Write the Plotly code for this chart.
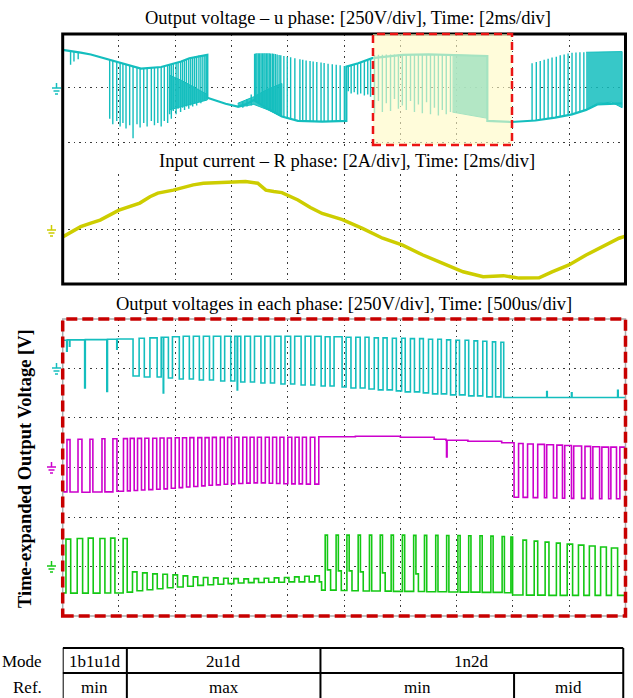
import plotly.graph_objects as go

W, H = 633, 698


def px(x):
    return x / W


def py(y):
    return 1 - y / H


# ------------------------------------------------------------------ data
# Top scope: u-phase output voltage (time in ms, volts)
U_BASE_T = [0.00, 0.30, 0.64, 1.00, 1.64, 2.07, 2.78, 3.50, 4.21, 4.50, 5.14, 5.14, 5.50, 5.79,
            6.22, 6.50, 6.79, 7.22, 7.79, 8.36, 9.22, 10.08, 10.08, 10.50, 11.00, 12.08, 13.00,
            13.94, 15.09, 15.09, 15.94, 16.80, 17.50, 18.10, 18.60, 19.00, 19.88]
U_BASE_V = [173, 168, 160, 152, 128, 112, 88, 95, 120, 135, 150, -45, -60, -72,
            -85, -75, -55, -90, -130, -150, -153, -150, 97, 112, 135, 150, 152,
            148, 145, -150, -155, -148, -135, -120, -100, -75, -70]

# switching pulses: (time, from level, to level)
U_PULSES = [
    (0.28, 165, 105), (0.40, 163, 120), (0.55, 160, 130),
    (1.67, 127, -140), (1.78, 124, -165), (1.92, 118, -150), (2.04, 114, -175), (2.14, 110, -160),
    (2.25, 106, -185), (2.38, 101, -170), (2.50, 97, -229), (2.64, 93, -165), (2.75, 89, -180),
    (2.88, 88, -160), (3.00, 89, -175), (3.15, 91, -150), (3.26, 92, -170), (3.38, 94, -160),
    (3.50, 95, -175), (3.61, 99, -150), (3.73, 103, -160),
    (3.80, 104, -120), (3.86, 108, -140), (3.93, 110, -105), (4.03, 115, -120), (4.10, 117, -95),
    (4.19, 120, -110), (4.26, 123, -90), (4.33, 127, -100), (4.40, 130, -85), (4.48, 134, -95),
    (4.55, 137, -80), (4.62, 140, -85), (4.69, 142, -72), (4.76, 145, -80), (4.84, 147, -65),
    (4.91, 148, -70), (4.98, 149, -58), (5.05, 150, -60), (5.10, 150, -52),
    (6.40, -60, -90), (6.55, -50, -85), (6.70, -30, -80),
    (6.82, 155, -58), (6.86, 156, -60), (6.90, 157, -62), (6.95, 157, -66), (7.00, 158, -70),
    (7.05, 158, -74), (7.10, 158, -78), (7.15, 158, -82), (7.19, 158, -85), (7.24, 158, -89),
    (7.29, 157, -93), (7.34, 157, -97), (7.39, 156, -100), (7.45, 156, -105), (7.50, 155, -110),
    (7.56, 154, -115), (7.62, 152, -120), (7.69, 150, -124), (7.75, 148, -128), (7.86, 145, -135),
    (7.98, 142, -140), (8.10, 139, -145), (8.25, 135, -148),
    (8.43, 130, -150), (8.53, 128, -151), (8.65, 125, -152), (8.79, 122, -152), (8.90, 120, -153),
    (9.03, 118, -153), (9.18, 115, -153), (9.29, 113, -153), (9.43, 110, -152), (9.58, 108, -152),
    (9.72, 105, -151), (9.86, 103, -151), (10.01, 100, -150),
    (10.15, 99, -15), (10.25, 102, -25), (10.36, 106, -20), (10.48, 110, -30), (10.59, 115, -25),
    (10.72, 120, -35), (10.84, 126, -30), (10.94, 132, -40),
    (11.08, 150, -115), (11.22, 151, -60), (11.36, 151, -110), (11.50, 152, -70), (11.65, 152, -105),
    (11.79, 152, -50), (11.93, 152, -95), (12.07, 152, -80), (12.21, 152, -100), (12.36, 152, -60),
    (12.50, 152, -110), (12.64, 152, -75), (12.78, 152, -115), (12.93, 152, -65), (13.07, 151, -120),
    (13.21, 151, -90), (13.35, 150, -125), (13.49, 150, -100), (13.63, 149, -120), (13.78, 149, -110),
    (16.68, 112, -148), (16.83, 118, -147), (16.97, 122, -145), (17.11, 128, -142), (17.25, 132, -140),
    (17.39, 138, -137), (17.54, 142, -134), (17.68, 148, -131), (17.82, 152, -128), (17.96, 156, -125),
    (18.10, 160, -120), (18.24, 161, -112), (18.38, 162, -105), (18.52, 162, -100),
]

# densely switched stretches: (time, upper edge, lower edge)
U_BAND_1 = [(3.78, 59, -100), (4.21, 35, -85), (4.50, 15, -75), (5.14, -30, -55)]
U_BAND_2 = [(6.22, -70, -88), (6.79, -40, -75), (7.30, -5, -100), (7.79, 20, -130)]
U_BAND_3 = [(13.85, 150, -110), (14.50, 148, -125), (15.09, 145, -138)]
U_BAND_4 = [(18.60, 162, -100), (19.00, 163, -70), (19.50, 164, -65), (19.88, 165, -90)]

# Top scope: R-phase input current (ms, A)
CUR_T = [0.00, 0.35, 0.64, 1.00, 1.33, 2.00, 2.39, 2.74, 3.10, 3.38, 3.93, 4.30, 4.64, 5.00,
         5.36, 6.00, 6.50, 6.93, 7.22, 7.50, 7.79, 8.36, 8.80, 9.22, 9.94, 10.65, 11.37, 12.08,
         12.80, 13.51, 14.23, 14.94, 15.66, 16.22, 16.93, 17.39, 17.99, 18.60, 19.17, 19.77, 20.00]
CUR_I = [-0.25, -0.05, 0.12, 0.25, 0.36, 0.72, 0.85, 0.98, 1.21, 1.34, 1.45, 1.55, 1.64, 1.70,
         1.72, 1.76, 1.76, 1.70, 1.45, 1.40, 1.36, 1.09, 0.82, 0.60, 0.38, 0.06, -0.30, -0.55,
         -0.91, -1.21, -1.52, -1.70, -1.66, -1.75, -1.74, -1.52, -1.27, -0.91, -0.61, -0.30, -0.22]

# Bottom scope: time-expanded phase voltages, step sequences (ms, V)
CYAN_STEPS = [
    (0.000, 140), (0.035, 85), (0.040, 142), (0.060, 110), (0.064, 142), (0.195, -100), (0.201, 143),
    (0.392, -118), (0.398, 145), (0.480, 95), (0.484, 146),
    (0.625, -40), (0.679, 150), (0.725, -45), (0.775, 152), (0.839, -45), (0.875, 155), (0.893, -125),
    (0.897, 155), (0.939, -50), (0.975, 158), (1.036, -55), (1.071, 160), (1.125, -55), (1.161, 160),
    (1.214, -60), (1.250, 160), (1.304, -60), (1.339, 160), (1.404, -65), (1.439, 160), (1.493, -65),
    (1.529, 160), (1.550, -110), (1.554, 160), (1.582, -70), (1.618, 160), (1.668, -70), (1.704, 160),
    (1.761, -75), (1.796, 160), (1.846, -75), (1.882, 160), (1.939, -80), (1.975, 160), (2.025, -80),
    (2.061, 160), (2.118, -85), (2.154, 160), (2.204, -85), (2.239, 160), (2.296, -90), (2.332, 158),
    (2.375, -90), (2.411, 158), (2.482, -95), (2.518, 155), (2.561, -100), (2.604, 155), (2.643, -100),
    (2.686, 155), (2.721, -105), (2.768, 152), (2.804, -110), (2.846, 152), (2.882, -110), (2.929, 150),
    (2.964, -115), (3.011, 150), (3.043, -120), (3.089, 148), (3.125, -120), (3.171, 148), (3.204, -125),
    (3.250, 145), (3.286, -130), (3.332, 145), (3.364, -130), (3.411, 142), (3.446, -135), (3.493, 140),
    (3.525, -135), (3.575, 140), (3.607, -140), (3.654, 137), (3.686, -140), (3.732, 135), (3.768, -145),
    (3.818, 132), (3.846, -145), (3.893, 130), (3.918, -148), (4.300, -118), (4.305, -148), (4.520, -125),
    (4.525, -148), (4.930, -112), (4.935, -148), (5.000, -148),
]
MAGENTA_STEPS = [
    (0.000, -125), (0.038, 138), (0.065, -126), (0.136, 140), (0.171, -127), (0.242, 140), (0.268, -126),
    (0.349, 142), (0.375, -125), (0.446, 142), (0.482, -122), (0.540, 143), (0.575, -120),
    (0.600, 144), (0.635, -118), (0.665, 144), (0.700, -116), (0.730, 145), (0.765, -114), (0.800, 145),
    (0.835, -112), (0.865, 146), (0.900, -110), (0.930, 146), (0.965, -107), (1.000, 147), (1.035, -104),
    (1.065, 147), (1.100, -101), (1.130, 148), (1.165, -98), (1.200, 148), (1.235, -95), (1.265, 148),
    (1.300, -92), (1.330, 149), (1.365, -90), (1.400, 149), (1.435, -87), (1.465, 149), (1.500, -85),
    (1.530, 150), (1.565, -83), (1.600, 150), (1.635, -81), (1.665, 150), (1.700, -80), (1.730, 150),
    (1.765, -80), (1.800, 150), (1.835, -82), (1.865, 150), (1.900, -83), (1.930, 150), (1.965, -84),
    (2.000, 150), (2.035, -85), (2.065, 150), (2.100, -85), (2.130, 150), (2.165, -86), (2.200, 150),
    (2.240, -86), (2.275, 152), (2.600, 155), (3.000, 150), (3.300, 140), (3.405, 135), (3.410, 50),
    (3.415, 135), (3.600, 130), (3.900, 122),
    (4.010, -152), (4.050, 118), (4.090, -153), (4.130, 116), (4.180, -154), (4.220, 114), (4.280, -155),
    (4.300, 112), (4.360, -156), (4.390, 110), (4.440, -157), (4.460, 108), (4.520, -158), (4.540, 106),
    (4.610, -158), (4.640, 104), (4.690, -159), (4.710, 102), (4.770, -160), (4.790, 100), (4.850, -160),
    (4.870, 100), (4.920, -160), (4.950, 100), (5.000, 100),
]
GREEN_STEPS = [
    (0.000, -136), (0.029, 135), (0.071, -137), (0.129, 138), (0.177, -137), (0.227, 140), (0.271, -137),
    (0.331, 138), (0.375, -136), (0.426, 140), (0.464, -136), (0.537, 138), (0.573, -132),
    (0.620, -30), (0.660, -125), (0.710, -35), (0.750, -120), (0.800, -40), (0.840, -115), (0.890, -42),
    (0.930, -110), (0.980, -45), (1.020, -106), (1.070, -50), (1.110, -102), (1.160, -55), (1.200, -98),
    (1.250, -58), (1.290, -95), (1.340, -60), (1.380, -92), (1.430, -62), (1.470, -89), (1.520, -64),
    (1.560, -86), (1.610, -65), (1.650, -84), (1.700, -64), (1.740, -83), (1.790, -62), (1.830, -82),
    (1.880, -60), (1.920, -82), (1.970, -58), (2.010, -80), (2.060, -55), (2.100, -80), (2.150, -52),
    (2.190, -80), (2.240, -50), (2.280, -80),
    (2.300, -122), (2.332, 155), (2.352, -20), (2.380, -122), (2.429, 155), (2.449, -25), (2.475, -124),
    (2.525, 155), (2.545, -25), (2.570, -125), (2.625, 155), (2.645, -30), (2.670, -126), (2.725, 155),
    (2.745, -126), (2.821, 155), (2.841, -35), (2.865, -127), (2.918, 155), (2.938, -128), (3.018, 155),
    (3.038, -128), (3.118, 154), (3.138, -40), (3.160, -129), (3.214, 154), (3.234, -130), (3.314, 154),
    (3.334, -130), (3.411, 153), (3.431, -131), (3.511, 153), (3.531, -132), (3.607, 152), (3.627, -132),
    (3.707, 152), (3.727, -133), (3.804, 150), (3.824, -133), (3.904, 148), (3.924, -135), (3.982, 145),
    (3.997, -146), (4.089, 130), (4.120, -147), (4.189, 125), (4.220, -147), (4.286, 120), (4.320, -148),
    (4.386, 115), (4.420, -148), (4.482, 110), (4.530, -148), (4.582, 105), (4.630, -148), (4.679, 100),
    (4.730, -148), (4.779, 95), (4.830, -148), (4.875, 90), (4.930, -148), (5.000, -148),
]

# Mode table (boundaries in ms of the time-expanded axis)
MODE_LABELS = ["1b1u1d", "2u1d", "1n2d"]
MODE_EDGES = [0.0, 0.57, 2.29, 4.98]
REF_LABELS = ["min", "max", "min", "mid"]
REF_EDGES = [0.0, 0.57, 2.29, 4.01, 4.98]

TITLE_TOP = "Output voltage \u2013 u phase: [250V/div], Time: [2ms/div]"
TITLE_MID = "Input current \u2013 R phase: [2A/div], Time: [2ms/div]"
TITLE_BOT = "Output voltages in each phase: [250V/div], Time: [500us/div]"
Y_TITLE = "Time-expanded Output Voltage [V]"

# ------------------------------------------------------------------ style
CYAN = "rgb(20,190,190)"
MAG = "rgb(204,0,204)"
GRN = "rgb(20,200,20)"
YEL = "rgb(205,205,0)"
SERIF = "Liberation Serif, Times New Roman, serif"
GRID = dict(showgrid=True, gridcolor="#3a3a3a", gridwidth=1.3, griddash="1.5px,4px",
            zeroline=False, showline=False, showticklabels=False, ticks="")

fig = go.Figure()

# top u-phase
fig.add_trace(go.Scatter(x=U_BASE_T, y=U_BASE_V, mode="lines", line=dict(color=CYAN, width=2.2),
                         xaxis="x", yaxis="y", hoverinfo="skip"))
for band in (U_BAND_1, U_BAND_2, U_BAND_3, U_BAND_4):
    bx = [p[0] for p in band] + [p[0] for p in band[::-1]]
    by = [p[1] for p in band] + [p[2] for p in band[::-1]]
    fig.add_trace(go.Scatter(x=bx, y=by, mode="lines", fill="toself", fillcolor="rgba(20,190,190,0.85)",
                             line=dict(color=CYAN, width=1), xaxis="x", yaxis="y", hoverinfo="skip"))
px_, py_ = [], []
for t, a, b in U_PULSES:
    px_ += [t, t, None]
    py_ += [a, b, None]
fig.add_trace(go.Scatter(x=px_, y=py_, mode="lines", line=dict(color=CYAN, width=1.4),
                         xaxis="x", yaxis="y", hoverinfo="skip"))

# current
fig.add_trace(go.Scatter(x=CUR_T, y=CUR_I, mode="lines", line=dict(color=YEL, width=3.5),
                         xaxis="x2", yaxis="y2", hoverinfo="skip"))

# bottom traces
for steps, col, ya in ((CYAN_STEPS, CYAN, "y3"), (MAGENTA_STEPS, MAG, "y4"), (GREEN_STEPS, GRN, "y5")):
    fig.add_trace(go.Scatter(x=[s[0] for s in steps], y=[s[1] for s in steps], mode="lines",
                             line=dict(color=col, width=1.6, shape="hv"), xaxis="x3", yaxis=ya,
                             hoverinfo="skip"))

XL, XR = 62.7, 625.5
fig.update_layout(
    width=W, height=H, margin=dict(l=0, r=0, t=0, b=0), showlegend=False,
    paper_bgcolor="white", plot_bgcolor="white",
    xaxis=dict(domain=[px(XL), px(XR)], range=[0, 20], dtick=2, tick0=0, anchor="y", **GRID),
    yaxis=dict(domain=[py(146), py(34)], range=[-264, 245], dtick=250, tick0=0, anchor="x", **GRID),
    xaxis2=dict(domain=[px(XL), px(XR)], range=[0, 20], dtick=2, tick0=0, anchor="y2", **GRID),
    yaxis2=dict(domain=[py(284), py(174)], range=[-1.964, 2.036], dtick=2, tick0=0, anchor="x2", **GRID),
    xaxis3=dict(domain=[px(XL), px(XR)], range=[0, 5], dtick=0.5, tick0=0, anchor="y3", **GRID),
    yaxis3=dict(domain=[py(616), py(319)], range=[-1248, 247], dtick=250, tick0=0, anchor="x3", **GRID),
    yaxis4=dict(overlaying="y3", range=[-750, 745], anchor="x3", showgrid=False, zeroline=False,
                showticklabels=False, ticks=""),
    yaxis5=dict(overlaying="y3", range=[-252, 1243], anchor="x3", showgrid=False, zeroline=False,
                showticklabels=False, ticks=""),
)

shapes = []
# top frame
shapes.append(dict(type="rect", xref="paper", yref="paper", x0=px(XL), x1=px(XR), y0=py(284), y1=py(34),
                   line=dict(color="black", width=3), layer="above"))
# highlight box
shapes.append(dict(type="rect", xref="paper", yref="paper", x0=px(373), x1=px(512), y0=py(145), y1=py(34),
                   fillcolor="rgba(255,250,195,0.62)", line=dict(color="rgb(235,20,20)", width=2.5, dash="8px,5px"),
                   layer="above"))
# bottom frame
shapes.append(dict(type="rect", xref="paper", yref="paper", x0=px(XL), x1=px(XR), y0=py(616), y1=py(319),
                   line=dict(color="#aaaaaa", width=1.5), layer="above"))
shapes.append(dict(type="rect", xref="paper", yref="paper", x0=px(XL), x1=px(XR), y0=py(616), y1=py(319),
                   line=dict(color="rgb(200,0,0)", width=3.5, dash="11px,5px"), layer="above"))


# ground markers
def ground(xc, yc, col):
    out = []
    for dy, hw in ((0, 4.5), (3, 3), (6, 1.5)):
        out.append(dict(type="line", xref="paper", yref="paper", x0=px(xc - hw), x1=px(xc + hw),
                        y0=py(yc + dy), y1=py(yc + dy), line=dict(color=col, width=1.5)))
    out.append(dict(type="line", xref="paper", yref="paper", x0=px(xc), x1=px(xc),
                    y0=py(yc - 5), y1=py(yc), line=dict(color=col, width=1.5)))
    return out


for xc, yc, col in ((56.5, 88, CYAN), (51.5, 230, YEL), (56.5, 368, CYAN), (51.5, 467, MAG), (51.5, 566, GRN)):
    shapes += ground(xc, yc, col)

# table
T_TOP, T_MID, T_BOT = 648, 673, 699
shapes.append(dict(type="line", xref="x3", yref="paper", x0=MODE_EDGES[0], x1=MODE_EDGES[-1],
                   y0=py(T_TOP), y1=py(T_TOP), line=dict(color="black", width=2)))
shapes.append(dict(type="line", xref="x3", yref="paper", x0=MODE_EDGES[0], x1=MODE_EDGES[-1],
                   y0=py(T_MID), y1=py(T_MID), line=dict(color="black", width=2)))
for e in MODE_EDGES:
    shapes.append(dict(type="line", xref="x3", yref="paper", x0=e, x1=e, y0=py(T_TOP), y1=py(T_MID),
                       line=dict(color="black", width=2)))
for e in REF_EDGES:
    shapes.append(dict(type="line", xref="x3", yref="paper", x0=e, x1=e, y0=py(T_MID), y1=py(T_BOT),
                       line=dict(color="black", width=2)))
fig.update_layout(shapes=shapes)


def label(text, x, y, size, xref="paper", xanchor="center", angle=0):
    return dict(text=text, x=x, y=y, xref=xref, yref="paper", showarrow=False, xanchor=xanchor,
                yanchor="middle", textangle=angle, font=dict(family=SERIF, size=size, color="black"))


ann = [
    label(TITLE_TOP, px(348), py(18), 18.5),
    label(TITLE_MID, px(347), py(161), 18.5),
    label(TITLE_BOT, px(344), py(304), 18.5),
    label("<b>" + Y_TITLE + "</b>", px(25), py(469), 18.5, angle=-90),
]
for lab, a, b in zip(MODE_LABELS, MODE_EDGES[:-1], MODE_EDGES[1:]):
    ann.append(label(lab, (a + b) / 2, py((T_TOP + T_MID) / 2 + 1), 17, xref="x3"))
for lab, a, b in zip(REF_LABELS, REF_EDGES[:-1], REF_EDGES[1:]):
    ann.append(label(lab, (a + b) / 2, py(T_MID + 14), 17, xref="x3"))
ann.append(label("Mode", px(44), py((T_TOP + T_MID) / 2 + 1), 17, xanchor="right"))
ann.append(label("Ref.", px(44), py(T_MID + 14), 17, xanchor="right"))
fig.update_layout(annotations=ann)

fig.write_html("out.html", config={"displayModeBar": False},
               post_script="document.body.style.margin='0px';")
